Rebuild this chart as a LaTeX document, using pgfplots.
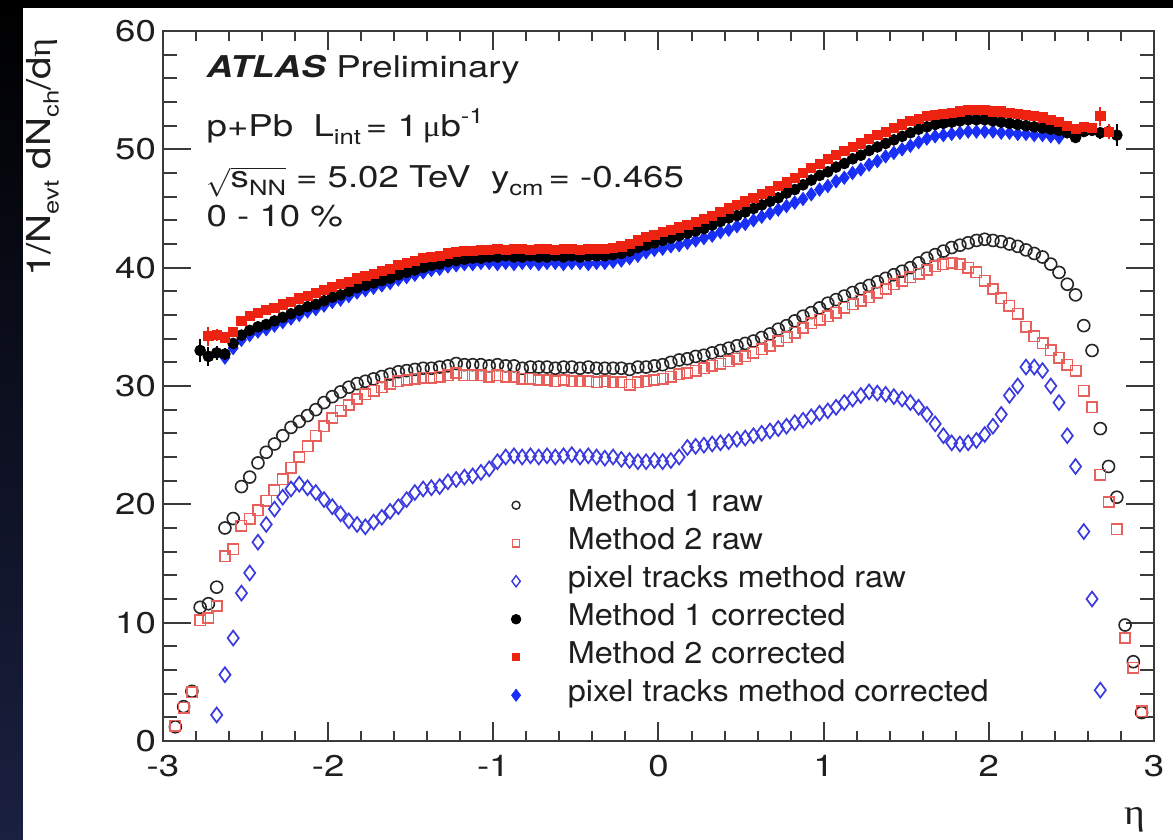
\documentclass[border=0pt]{standalone}
\usepackage{fontspec}
\setmainfont{TeX Gyre Heros}[FakeStretch=1.22]
\newfontfamily\legfont{TeX Gyre Heros}[FakeStretch=1.08]
\newfontfamily\grk{Liberation Serif}[FakeStretch=1.1]
\usepackage{pgfplots}
\usepackage{pgfplotstable}
\pgfplotsset{compat=1.18}

\definecolor{axgray}{HTML}{3A3A3A}
\definecolor{textgray}{HTML}{1E1E1E}
\definecolor{rawred}{HTML}{E8605C}
\definecolor{rawblue}{HTML}{3A3AE0}
\definecolor{corrred}{HTML}{EE2211}
\definecolor{corrblue}{HTML}{1A2FF5}

\newcommand{\lbl}{\fontsize{15}{18}\selectfont}
\newcommand{\dn}[1]{\raisebox{-0.5ex}{\fontsize{10.5}{11}\selectfont #1}}
\newcommand{\up}[1]{\raisebox{0.85ex}{\fontsize{10.5}{11}\selectfont #1}}

% Method 1 raw
\pgfplotstableread{
eta val
-2.925 1.2
-2.875 2.9
-2.825 4.2
-2.775 11.3
-2.725 11.6
-2.675 13.0
-2.625 18.0
-2.575 18.8
-2.525 21.5
-2.475 22.3
-2.425 23.5
-2.375 24.4
-2.325 25.1
-2.275 25.8
-2.225 26.5
-2.175 27.0
-2.125 27.5
-2.075 28.0
-2.025 28.6
-1.975 29.1
-1.925 29.5
-1.875 29.9
-1.825 30.2
-1.775 30.4
-1.725 30.6
-1.675 30.8
-1.625 31.0
-1.575 31.2
-1.525 31.3
-1.475 31.4
-1.425 31.5
-1.375 31.5
-1.325 31.6
-1.275 31.7
-1.225 31.9
-1.175 31.8
-1.125 31.8
-1.075 31.8
-1.025 31.7
-0.975 31.8
-0.925 31.7
-0.875 31.7
-0.825 31.5
-0.775 31.6
-0.725 31.6
-0.675 31.6
-0.625 31.5
-0.575 31.6
-0.525 31.6
-0.475 31.5
-0.425 31.6
-0.375 31.5
-0.325 31.5
-0.275 31.5
-0.225 31.5
-0.175 31.4
-0.125 31.6
-0.075 31.6
-0.025 31.7
0.025 31.8
0.075 32.0
0.125 32.2
0.175 32.3
0.225 32.5
0.275 32.6
0.325 32.8
0.375 33.0
0.425 33.2
0.475 33.4
0.525 33.6
0.575 33.8
0.625 34.1
0.675 34.4
0.725 34.8
0.775 35.1
0.825 35.5
0.875 35.9
0.925 36.2
0.975 36.6
1.025 37.0
1.075 37.3
1.125 37.6
1.175 37.9
1.225 38.2
1.275 38.5
1.325 38.8
1.375 39.1
1.425 39.4
1.475 39.7
1.525 40.0
1.575 40.4
1.625 40.8
1.675 41.1
1.725 41.4
1.775 41.7
1.825 41.9
1.875 42.1
1.925 42.3
1.975 42.4
2.025 42.3
2.075 42.2
2.125 42.0
2.175 41.8
2.225 41.5
2.275 41.2
2.325 40.9
2.375 40.3
2.425 39.6
2.475 38.6
2.525 37.7
2.575 35.1
2.625 33.0
2.675 26.4
2.725 23.2
2.775 20.6
2.825 9.8
2.875 6.7
2.925 2.4
}\mOneRaw

% Method 2 raw
\pgfplotstableread{
eta val
-2.925 1.3
-2.875 2.8
-2.825 4.1
-2.775 10.2
-2.725 10.4
-2.675 11.4
-2.625 15.6
-2.575 16.2
-2.525 18.2
-2.475 18.8
-2.425 19.5
-2.375 20.3
-2.325 21.2
-2.275 22.1
-2.225 23.1
-2.175 24.0
-2.125 24.9
-2.075 25.8
-2.025 26.6
-1.975 27.3
-1.925 27.9
-1.875 28.4
-1.825 28.9
-1.775 29.3
-1.725 29.6
-1.675 29.9
-1.625 30.2
-1.575 30.4
-1.525 30.5
-1.475 30.6
-1.425 30.7
-1.375 30.7
-1.325 30.8
-1.275 30.9
-1.225 31.1
-1.175 30.9
-1.125 30.9
-1.075 30.9
-1.025 30.8
-0.975 30.9
-0.925 30.8
-0.875 30.8
-0.825 30.6
-0.775 30.6
-0.725 30.5
-0.675 30.5
-0.625 30.4
-0.575 30.5
-0.525 30.4
-0.475 30.4
-0.425 30.4
-0.375 30.3
-0.325 30.4
-0.275 30.3
-0.225 30.3
-0.175 30.1
-0.125 30.3
-0.075 30.4
-0.025 30.5
0.025 30.6
0.075 30.8
0.125 31.0
0.175 31.1
0.225 31.3
0.275 31.5
0.325 31.7
0.375 31.9
0.425 32.1
0.475 32.3
0.525 32.5
0.575 32.8
0.625 33.1
0.675 33.4
0.725 33.8
0.775 34.1
0.825 34.5
0.875 34.9
0.925 35.3
0.975 35.6
1.025 35.9
1.075 36.2
1.125 36.6
1.175 36.9
1.225 37.2
1.275 37.5
1.325 37.9
1.375 38.2
1.425 38.6
1.475 38.9
1.525 39.2
1.575 39.5
1.625 39.8
1.675 40.1
1.725 40.3
1.775 40.4
1.825 40.3
1.875 40.0
1.925 39.6
1.975 38.9
2.025 38.2
2.075 37.4
2.125 36.8
2.175 36.1
2.225 35.0
2.275 34.2
2.325 33.6
2.375 33.0
2.425 32.4
2.475 31.8
2.525 31.3
2.575 29.6
2.625 28.2
2.675 22.5
2.725 20.2
2.775 17.9
2.825 8.7
2.875 6.2
2.925 2.5
}\mTwoRaw

% pixel tracks raw
\pgfplotstableread{
eta val
-2.675 2.2
-2.625 5.6
-2.575 8.7
-2.525 12.5
-2.475 14.2
-2.425 16.8
-2.375 18.3
-2.325 19.6
-2.275 20.6
-2.225 21.3
-2.175 21.7
-2.125 21.4
-2.075 21.0
-2.025 20.4
-1.975 19.8
-1.925 19.2
-1.875 18.6
-1.825 18.3
-1.775 18.1
-1.725 18.5
-1.675 18.9
-1.625 19.4
-1.575 19.8
-1.525 20.4
-1.475 21.0
-1.425 21.3
-1.375 21.4
-1.325 21.5
-1.275 21.9
-1.225 22.1
-1.175 22.3
-1.125 22.4
-1.075 22.7
-1.025 23.0
-0.975 23.6
-0.925 24.0
-0.875 24.1
-0.825 24.0
-0.775 24.1
-0.725 24.0
-0.675 24.1
-0.625 24.0
-0.575 24.1
-0.525 24.2
-0.475 24.0
-0.425 24.1
-0.375 24.0
-0.325 23.9
-0.275 24.0
-0.225 23.8
-0.175 23.7
-0.125 23.6
-0.075 23.6
-0.025 23.7
0.025 23.6
0.075 23.7
0.125 24.0
0.175 24.8
0.225 24.9
0.275 25.0
0.325 25.1
0.375 25.2
0.425 25.3
0.475 25.5
0.525 25.6
0.575 25.8
0.625 26.0
0.675 26.2
0.725 26.4
0.775 26.6
0.825 26.9
0.875 27.1
0.925 27.4
0.975 27.7
1.025 27.9
1.075 28.2
1.125 28.6
1.175 28.9
1.225 29.2
1.275 29.5
1.325 29.4
1.375 29.3
1.425 29.1
1.475 28.9
1.525 28.6
1.575 28.2
1.625 27.6
1.675 26.8
1.725 25.8
1.775 25.2
1.825 25.1
1.875 25.2
1.925 25.4
1.975 25.9
2.025 26.6
2.075 27.6
2.125 29.2
2.175 30.0
2.225 31.6
2.275 31.6
2.325 31.3
2.375 30.0
2.425 28.6
2.475 25.8
2.525 23.2
2.575 17.7
2.625 12.0
2.675 4.3
}\pixRaw

% Method 1 corrected
\pgfplotstableread{
eta val err
-2.775 33.0 1.0
-2.725 32.5 0.8
-2.675 32.8 0.6
-2.625 32.7 0.5
-2.575 33.6 0.4
-2.525 34.3 0.3
-2.475 34.7 0.3
-2.425 35.0 0.2
-2.375 35.2 0.2
-2.325 35.5 0.2
-2.275 35.8 0.2
-2.225 36.1 0.2
-2.175 36.4 0.2
-2.125 36.7 0.2
-2.075 36.9 0.2
-2.025 37.2 0.2
-1.975 37.5 0.2
-1.925 37.7 0.2
-1.875 38.0 0.2
-1.825 38.3 0.2
-1.775 38.5 0.2
-1.725 38.7 0.2
-1.675 38.9 0.2
-1.625 39.1 0.2
-1.575 39.4 0.2
-1.525 39.6 0.2
-1.475 39.8 0.2
-1.425 40.0 0.2
-1.375 40.2 0.2
-1.325 40.3 0.2
-1.275 40.5 0.2
-1.225 40.6 0.2
-1.175 40.7 0.2
-1.125 40.8 0.2
-1.075 40.8 0.2
-1.025 40.9 0.2
-0.975 40.9 0.2
-0.925 41.0 0.2
-0.875 40.9 0.2
-0.825 40.9 0.2
-0.775 41.0 0.2
-0.725 40.9 0.2
-0.675 40.9 0.2
-0.625 41.0 0.2
-0.575 40.9 0.2
-0.525 41.0 0.2
-0.475 40.9 0.2
-0.425 41.0 0.2
-0.375 41.0 0.2
-0.325 41.0 0.2
-0.275 41.1 0.2
-0.225 41.2 0.2
-0.175 41.4 0.2
-0.125 41.7 0.2
-0.075 41.9 0.2
-0.025 42.1 0.2
0.025 42.3 0.2
0.075 42.5 0.2
0.125 42.7 0.2
0.175 42.9 0.2
0.225 43.1 0.2
0.275 43.3 0.2
0.325 43.6 0.2
0.375 43.9 0.2
0.425 44.2 0.2
0.475 44.4 0.2
0.525 44.7 0.2
0.575 45.0 0.2
0.625 45.3 0.2
0.675 45.6 0.2
0.725 45.9 0.2
0.775 46.3 0.2
0.825 46.6 0.2
0.875 47.0 0.2
0.925 47.4 0.2
0.975 47.8 0.2
1.025 48.1 0.2
1.075 48.5 0.2
1.125 48.8 0.2
1.175 49.2 0.2
1.225 49.5 0.2
1.275 49.9 0.2
1.325 50.2 0.2
1.375 50.5 0.2
1.425 50.8 0.2
1.475 51.1 0.2
1.525 51.4 0.2
1.575 51.7 0.2
1.625 51.9 0.2
1.675 52.1 0.2
1.725 52.2 0.2
1.775 52.3 0.2
1.825 52.4 0.2
1.875 52.5 0.2
1.925 52.5 0.2
1.975 52.5 0.2
2.025 52.4 0.2
2.075 52.3 0.2
2.125 52.2 0.2
2.175 52.1 0.2
2.225 52.0 0.2
2.275 51.9 0.2
2.325 51.8 0.2
2.375 51.7 0.2
2.425 51.6 0.2
2.475 51.4 0.2
2.525 51.0 0.3
2.575 51.5 0.3
2.625 51.6 0.4
2.675 51.4 0.5
2.725 51.5 0.6
2.775 51.2 0.9
}\mOneCorr

% Method 2 corrected
\pgfplotstableread{
eta val err
-2.725 34.2 0.8
-2.675 34.3 0.5
-2.625 34.1 0.4
-2.575 34.6 0.3
-2.525 35.5 0.3
-2.475 35.9 0.2
-2.425 36.2 0.2
-2.375 36.4 0.2
-2.325 36.6 0.2
-2.275 36.9 0.2
-2.225 37.1 0.2
-2.175 37.4 0.2
-2.125 37.6 0.2
-2.075 37.9 0.2
-2.025 38.1 0.2
-1.975 38.4 0.2
-1.925 38.6 0.2
-1.875 38.8 0.2
-1.825 39.1 0.2
-1.775 39.3 0.2
-1.725 39.5 0.2
-1.675 39.7 0.2
-1.625 39.9 0.2
-1.575 40.2 0.2
-1.525 40.4 0.2
-1.475 40.6 0.2
-1.425 40.8 0.2
-1.375 40.9 0.2
-1.325 41.0 0.2
-1.275 41.2 0.2
-1.225 41.3 0.2
-1.175 41.4 0.2
-1.125 41.4 0.2
-1.075 41.5 0.2
-1.025 41.5 0.2
-0.975 41.6 0.2
-0.925 41.5 0.2
-0.875 41.6 0.2
-0.825 41.6 0.2
-0.775 41.5 0.2
-0.725 41.6 0.2
-0.675 41.6 0.2
-0.625 41.5 0.2
-0.575 41.6 0.2
-0.525 41.6 0.2
-0.475 41.5 0.2
-0.425 41.6 0.2
-0.375 41.6 0.2
-0.325 41.6 0.2
-0.275 41.7 0.2
-0.225 41.8 0.2
-0.175 42.0 0.2
-0.125 42.3 0.2
-0.075 42.6 0.2
-0.025 42.8 0.2
0.025 43.0 0.2
0.075 43.2 0.2
0.125 43.4 0.2
0.175 43.6 0.2
0.225 43.9 0.2
0.275 44.1 0.2
0.325 44.4 0.2
0.375 44.7 0.2
0.425 45.0 0.2
0.475 45.3 0.2
0.525 45.6 0.2
0.575 45.9 0.2
0.625 46.2 0.2
0.675 46.5 0.2
0.725 46.9 0.2
0.775 47.2 0.2
0.825 47.6 0.2
0.875 48.0 0.2
0.925 48.4 0.2
0.975 48.8 0.2
1.025 49.2 0.2
1.075 49.5 0.2
1.125 49.9 0.2
1.175 50.2 0.2
1.225 50.5 0.2
1.275 50.9 0.2
1.325 51.2 0.2
1.375 51.5 0.2
1.425 51.8 0.2
1.475 52.1 0.2
1.525 52.4 0.2
1.575 52.6 0.2
1.625 52.8 0.2
1.675 52.9 0.2
1.725 53.0 0.2
1.775 53.1 0.2
1.825 53.2 0.2
1.875 53.3 0.2
1.925 53.3 0.2
1.975 53.3 0.2
2.025 53.2 0.2
2.075 53.2 0.2
2.125 53.1 0.2
2.175 53.0 0.2
2.225 52.9 0.2
2.275 52.8 0.2
2.325 52.7 0.2
2.375 52.5 0.2
2.425 52.3 0.2
2.475 52.0 0.2
2.525 51.7 0.3
2.575 51.9 0.3
2.625 51.8 0.4
2.675 52.8 0.8
2.725 51.5 0.6
}\mTwoCorr

% pixel tracks corrected
\pgfplotstableread{
eta val err
-2.625 32.4 0.4
-2.575 33.2 0.3
-2.525 33.9 0.3
-2.475 34.3 0.2
-2.425 34.6 0.2
-2.375 34.8 0.2
-2.325 35.1 0.2
-2.275 35.4 0.2
-2.225 35.7 0.2
-2.175 36.0 0.2
-2.125 36.3 0.2
-2.075 36.5 0.2
-2.025 36.8 0.2
-1.975 37.1 0.2
-1.925 37.3 0.2
-1.875 37.6 0.2
-1.825 37.9 0.2
-1.775 38.1 0.2
-1.725 38.3 0.2
-1.675 38.5 0.2
-1.625 38.7 0.2
-1.575 39.0 0.2
-1.525 39.2 0.2
-1.475 39.4 0.2
-1.425 39.6 0.2
-1.375 39.8 0.2
-1.325 39.9 0.2
-1.275 40.1 0.2
-1.225 40.2 0.2
-1.175 40.3 0.2
-1.125 40.3 0.2
-1.075 40.4 0.2
-1.025 40.4 0.2
-0.975 40.3 0.2
-0.925 40.4 0.2
-0.875 40.3 0.2
-0.825 40.4 0.2
-0.775 40.4 0.2
-0.725 40.3 0.2
-0.675 40.4 0.2
-0.625 40.4 0.2
-0.575 40.3 0.2
-0.525 40.4 0.2
-0.475 40.4 0.2
-0.425 40.3 0.2
-0.375 40.4 0.2
-0.325 40.4 0.2
-0.275 40.5 0.2
-0.225 40.6 0.2
-0.175 40.8 0.2
-0.125 41.0 0.2
-0.075 41.3 0.2
-0.025 41.5 0.2
0.025 41.6 0.2
0.075 41.8 0.2
0.125 41.9 0.2
0.175 42.1 0.2
0.225 42.3 0.2
0.275 42.5 0.2
0.325 42.7 0.2
0.375 43.0 0.2
0.425 43.2 0.2
0.475 43.5 0.2
0.525 43.7 0.2
0.575 44.0 0.2
0.625 44.3 0.2
0.675 44.6 0.2
0.725 44.9 0.2
0.775 45.2 0.2
0.825 45.5 0.2
0.875 45.8 0.2
0.925 46.2 0.2
0.975 46.6 0.2
1.025 46.9 0.2
1.075 47.3 0.2
1.125 47.6 0.2
1.175 48.0 0.2
1.225 48.3 0.2
1.275 48.7 0.2
1.325 49.0 0.2
1.375 49.4 0.2
1.425 49.7 0.2
1.475 50.0 0.2
1.525 50.3 0.2
1.575 50.6 0.2
1.625 50.9 0.2
1.675 51.1 0.2
1.725 51.2 0.2
1.775 51.3 0.2
1.825 51.4 0.2
1.875 51.5 0.2
1.925 51.5 0.2
1.975 51.5 0.2
2.025 51.5 0.2
2.075 51.4 0.2
2.125 51.4 0.2
2.175 51.3 0.2
2.225 51.3 0.2
2.275 51.2 0.2
2.325 51.2 0.2
2.375 51.1 0.2
2.425 51.0 0.2
}\pixCorr

\begin{document}
\begin{tikzpicture}
\path[use as bounding box] (-81.5pt,-49.5pt) rectangle (505pt,370.5pt);
% dark surround and white panel
\shade[top color=black, bottom color={rgb,255:red,26;green,32;blue,64}]
  (-81.5pt,-49.5pt) rectangle (505pt,370.5pt);
\fill[black] (-81.5pt,366.5pt) rectangle (505pt,370.5pt);
\fill[white] (-70pt,-49.5pt) rectangle (505pt,366.5pt);

\begin{axis}[
  at={(0pt,0pt)}, anchor=south west,
  scale only axis, width=495.5pt, height=355pt,
  xmin=-3, xmax=3, ymin=0, ymax=60,
  xtick=\empty,
  ytick={0,10,...,60}, minor y tick num=4,
  major tick length=14pt, minor tick length=7pt,
  tick align=inside,
  tick style={axgray, line width=1pt},
  axis line style={axgray, line width=1.2pt},
  /pgf/number format/assume math mode=true,
  yticklabel style={font=\lbl, text=textgray},
  clip mode=individual,
  legend style={at={(axis description cs:0.345,0.365)}, anchor=north west,
    draw=none, fill=none, font=\legfont\lbl, text=textgray,
    column sep=22pt, row sep=0pt, cells={anchor=west},
    nodes={inner sep=1.5pt, text height=11pt, text depth=5pt}},
  every axis plot/.append style={only marks},
  error bars/error bar style={line width=1pt},
]
% raw distributions
\addplot[mark=o, mark size=3pt, draw=black!85, line width=0.8pt, forget plot] table[x=eta, y=val] {\mOneRaw};
\addplot[mark=square, mark size=2.6pt, draw=rawred, line width=0.8pt, forget plot] table[x=eta, y=val] {\mTwoRaw};
\addplot[mark=diamond, mark size=3.7pt, draw=rawblue, line width=0.85pt, forget plot] table[x=eta, y=val] {\pixRaw};
% corrected distributions
\addplot[mark=diamond*, mark size=3.3pt, color=corrblue, forget plot,
  error bars/.cd, y dir=both, y explicit, error mark=none]
  table[x=eta, y=val, y error=err] {\pixCorr};
\addplot[mark=*, mark size=2.7pt, color=black, forget plot,
  error bars/.cd, y dir=both, y explicit, error mark=none]
  table[x=eta, y=val, y error=err] {\mOneCorr};
\addplot[mark=square*, mark size=2.3pt, color=corrred, forget plot,
  error bars/.cd, y dir=both, y explicit, error mark=none]
  table[x=eta, y=val, y error=err] {\mTwoCorr};

\addlegendimage{only marks, mark=o, mark size=2pt, draw=black!85, line width=0.7pt}
\addlegendentry{Method 1 raw}
\addlegendimage{only marks, mark=square, mark size=1.8pt, draw=rawred, line width=0.7pt}
\addlegendentry{Method 2 raw}
\addlegendimage{only marks, mark=diamond, mark size=2.8pt, draw=rawblue, line width=0.7pt}
\addlegendentry{pixel tracks method raw}
\addlegendimage{only marks, mark=*, mark size=2.4pt, color=black}
\addlegendentry{Method 1 corrected}
\addlegendimage{only marks, mark=square*, mark size=1.8pt, color=corrred}
\addlegendentry{Method 2 corrected}
\addlegendimage{only marks, mark=diamond*, mark size=3pt, color=corrblue}
\addlegendentry{pixel tracks method corrected}

% labels
\node[anchor=base west, font=\lbl, text=textgray] at (axis description cs:0.037,0.934)
  {\textbf{\textit{ATLAS}} Preliminary};
\node[anchor=base west, font=\lbl, text=textgray] at (axis description cs:0.037,0.851)
  {p+Pb\ \ L\dn{int}\,= 1\,{\grk μ}b\up{-1}};
\node[anchor=base west, font=\lbl, text=textgray] at (axis description cs:0.037,0.779)
  {$\sqrt{\mbox{s\dn{NN}}}$ = 5.02 TeV\ \ y\dn{cm}\,= -0.465};
\node[anchor=base west, font=\lbl, text=textgray] at (axis description cs:0.037,0.724)
  {0 - 10 \%};
\node[rotate=90, anchor=base east, font=\fontsize{16.5}{18}\selectfont, text=textgray] at (axis description cs:-0.114,1.0)
  {1/N\dn{evt} dN\dn{ch}/d{\grk η}};
\node[anchor=base east, font=\fontsize{18}{18}\selectfont, text=textgray] at (axis description cs:0.998,-0.118)
  {\grk η};
\end{axis}

% x ticks (shorter than the y ticks)
\begin{axis}[
  at={(0pt,0pt)}, anchor=south west,
  scale only axis, width=495.5pt, height=355pt,
  xmin=-3, xmax=3, ymin=0, ymax=60,
  ytick=\empty,
  xtick={-3,-2,...,3}, minor x tick num=4,
  major tick length=9.5pt, minor tick length=4.8pt,
  tick align=inside,
  tick style={axgray, line width=1pt},
  axis line style={axgray, line width=1.2pt},
  /pgf/number format/assume math mode=true,
  xticklabel style={font=\lbl, text=textgray, yshift=-3.5pt},
]
\end{axis}
\end{tikzpicture}
\end{document}
